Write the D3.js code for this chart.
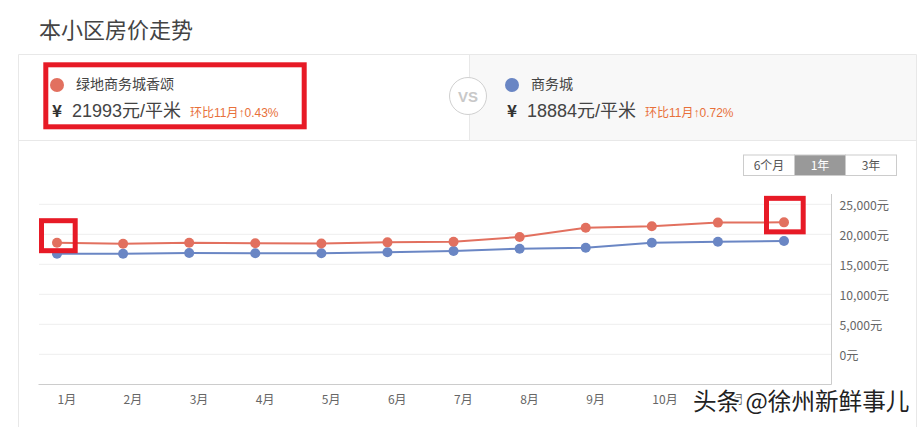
<!DOCTYPE html>
<html lang="zh">
<head>
    <meta charset="UTF-8">
    <title>本小区房价走势</title>
    <script src="https://d3js.org/d3.v7.min.js"></script>
    <style>
        body { margin: 0; background: #fff; overflow: hidden; }
        svg { display: block; }
        text { font-family: "Noto Sans CJK SC", "Open Sans", sans-serif; }
        .num { font-family: "Liberation Sans", "Noto Sans CJK SC", sans-serif; }
    </style>
</head>
<body>
    <svg width="921" height="427"></svg>
    <script>
        const months = ["1月", "2月", "3月", "4月", "5月", "6月", "7月", "8月", "9月", "10月", "11月", "12月"];
        const communityName = "绿地商务城香颂";
        const districtName = "商务城";
        const communityPrices = [18600, 18430, 18600, 18500, 18480, 18660, 18770, 19550, 21100, 21330, 21950, 21993];
        const districtPrices = [16770, 16770, 16880, 16830, 16830, 17000, 17220, 17600, 17770, 18600, 18750, 18884];
        const yTicks = [0, 5000, 10000, 15000, 20000, 25000];
        const rangeLabels = ["6个月", "1年", "3年"];

        const red = "#e2705f", blue = "#6a86c4", frame = "#e8e8e8", label = "#666";
        const svg = d3.select("svg");

        const x = d3.scalePoint().domain(months).range([57, 784]);
        const y = d3.scaleLinear().domain([-5000, 25000]).range([384.3, 204.3]);

        // header
        svg.append("text").attr("x", 39).attr("y", 38).attr("font-size", 22).attr("fill", "#444").text("本小区房价走势");

        // panel frame
        svg.append("rect").attr("x", 469.5).attr("y", 54.5).attr("width", 447).attr("height", 86).attr("fill", "#f8f8f8");
        svg.append("path").attr("fill", "none").attr("stroke", frame)
            .attr("d", "M18.5,427V54.5H916.5V427M18.5,140.5H916.5M469.5,54.5V140.5");

        // red highlight boxes
        const boxes = svg.append("g").attr("fill", "none").attr("stroke", "#e71a26").attr("stroke-width", 5);
        boxes.append("rect").attr("x", 45.8).attr("y", 64.8).attr("width", 258.4).attr("height", 62);

        // compare cards
        function card(cx, name, price, note, color, nameX, priceX, noteX) {
            svg.append("circle").attr("cx", cx).attr("cy", 85).attr("r", 7).attr("fill", color);
            svg.append("text").attr("x", nameX).attr("y", 89).attr("font-size", 14).attr("fill", "#444").text(name);
            svg.append("text").attr("x", cx - 5).attr("y", 117).attr("font-size", 17).attr("font-weight", 700).attr("fill", "#333").text("¥");
            svg.append("text").attr("class", "num").attr("x", priceX).attr("y", 117).attr("font-size", 18).attr("fill", "#444").text(price);
            svg.append("text").attr("class", "num").attr("x", noteX).attr("y", 117).attr("font-size", 12).attr("fill", "#e8703a").text(note);
        }
        card(57, communityName, "21993元/平米", "环比11月↑0.43%", red, 76, 72, 190);
        card(512, districtName, "18884元/平米", "环比11月↑0.72%", blue, 531, 527, 645);

        // vs badge
        svg.append("circle").attr("cx", 468).attr("cy", 96).attr("r", 18.5).attr("fill", "#fff").attr("stroke", "#d0d0d0");
        svg.append("text").attr("class", "num").attr("x", 468).attr("y", 102).attr("text-anchor", "middle")
            .attr("font-size", 15).attr("font-weight", 700).attr("fill", "#c8c8c8").text("VS");

        // range buttons
        const btnX = d3.scaleBand().domain(rangeLabels).range([743.5, 896.5]);
        const btn = svg.append("g").selectAll("g").data(rangeLabels).join("g");
        btn.append("rect").attr("x", d => btnX(d)).attr("y", 155).attr("width", btnX.bandwidth()).attr("height", 20.5)
            .attr("fill", d => d === "1年" ? "#999" : "#fff").attr("stroke", "#ccc");
        btn.append("text").attr("x", d => btnX(d) + btnX.bandwidth() / 2).attr("y", 170).attr("text-anchor", "middle")
            .attr("font-size", 12).attr("fill", d => d === "1年" ? "#fff" : "#555").text(d => d);

        // grid
        svg.append("g").selectAll("line").data(yTicks).join("line")
            .attr("x1", 39).attr("x2", 831).attr("y1", d => y(d)).attr("y2", d => y(d)).attr("stroke", "#eee");

        // axes
        const yAxis = d3.axisRight(y).tickValues(yTicks).tickSize(0).tickPadding(8).tickFormat(d => d3.format(",")(d) + "元");
        const gy = svg.append("g").attr("transform", "translate(831.5,1)").call(yAxis);
        gy.select(".domain").remove();
        gy.selectAll("text").attr("font-size", 12.2).attr("fill", label).style("font-family", '"Noto Sans CJK SC", sans-serif');
        svg.append("path").attr("fill", "none").attr("stroke", "#ccc").attr("d", "M38.5,384.5H831.5V194");

        // month labels start at the point, they are not centred on it
        const xAxis = d3.axisBottom(x).tickSize(0).tickPadding(11);
        const gx = svg.append("g").attr("transform", "translate(0,384.3)").call(xAxis);
        gx.select(".domain").remove();
        gx.selectAll("text").attr("text-anchor", "start").attr("font-size", 12).attr("fill", label)
            .style("font-family", '"Noto Sans CJK SC", sans-serif');

        // series
        const line = d3.line().x((d, i) => x(months[i])).y(d => y(d));
        [[districtPrices, blue], [communityPrices, red]].forEach(([vals, color]) => {
            svg.append("path").datum(vals).attr("d", line).attr("fill", "none").attr("stroke", color).attr("stroke-width", 2);
            svg.append("g").selectAll("circle").data(vals).join("circle")
                .attr("cx", (d, i) => x(months[i])).attr("cy", d => y(d)).attr("r", 5).attr("fill", color);
        });

        // point highlight boxes
        boxes.raise();
        const marks = [[0, communityPrices[0], 33.7, 30], [11, communityPrices[11], 36.7, 33.5]];
        boxes.selectAll("rect.mark").data(marks).join("rect").attr("class", "mark")
            .attr("x", d => x(months[d[0]]) + (d[0] ? -17.5 : -15.5))
            .attr("y", d => y(d[1]) + (d[0] ? -24 : -22))
            .attr("width", d => d[2]).attr("height", d => d[3]);

        // watermark, the white halo covers the labels under it
        svg.append("text").attr("x", 693).attr("y", 410).attr("font-size", 23.6).attr("fill", "#222")
            .attr("stroke", "#fff").attr("stroke-width", 4).attr("paint-order", "stroke")
            .attr("stroke-linejoin", "round").text("头条 @徐州新鲜事儿");
    </script>
</body>
</html>
